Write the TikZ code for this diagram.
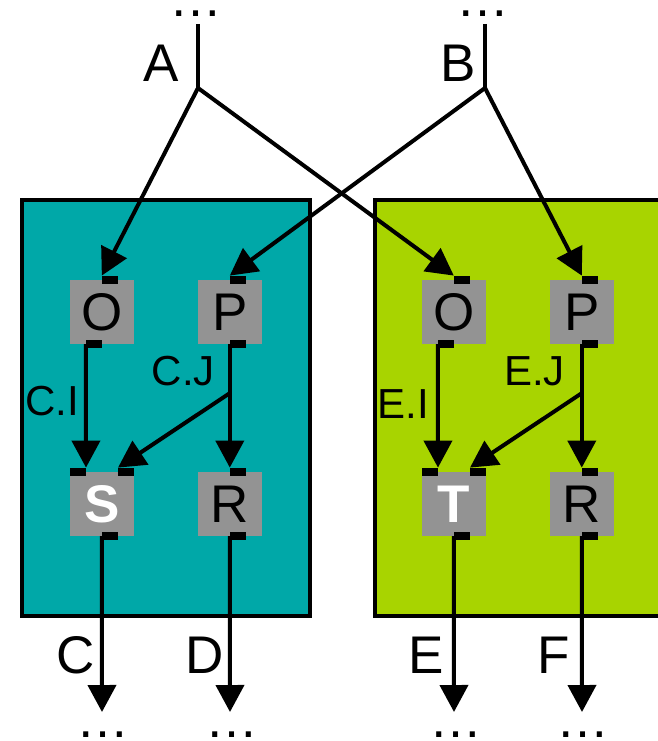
\documentclass[tikz,border=0pt]{standalone}
\usepackage{fontspec}
\setmainfont{Liberation Sans}
\usepackage{tikz}
\usetikzlibrary{arrows.meta, positioning, calc}

\definecolor{tealc}{RGB}{0,168,168}
\definecolor{limec}{RGB}{168,212,0}
\definecolor{boxgray}{RGB}{147,147,147}

\tikzset{
  blk/.style={fill=boxgray, minimum size=64pt, inner sep=0pt,
              font=\fontsize{53}{60}\selectfont},
  hiblk/.style={blk, text=white, font=\fontsize{53}{60}\selectfont\bfseries},
  port/.style={fill=black, minimum width=16pt, minimum height=8pt, inner sep=0pt},
  flow/.style={line width=4pt, -{Triangle[length=27pt,width=28pt]}},
  wire/.style={line width=4pt},
  lbl/.style={font=\fontsize{53}{60}\selectfont, inner sep=0pt, anchor=base east},
  sublbl/.style={font=\fontsize{42}{48}\selectfont, inner sep=0pt, anchor=base east},
  dotsn/.style={font=\fontsize{53}{60}\selectfont, inner sep=0pt, anchor=base,
                text height=5pt, text depth=0pt},
  panel/.style={draw=black, line width=4pt, inner sep=0pt,
                minimum width=287.5pt, minimum height=416pt}
}

\begin{document}
\begin{tikzpicture}[x=1pt,y=-1pt]
          \useasboundingbox (0,0) rectangle (658,741);
          \node[panel,fill=tealc](pc)at(165.75,407.5){};
          \node[panel,fill=limec](pe)at(518.25,407.5){};
          \node[blk](o1)at(102,312){O};
          \node[blk](p1)at(230,312){P};
          \node[hiblk](s)at(102,504){S};
          \node[blk](r1)at(230,504){R};
          \node[blk](o2)at(454,312){O};
          \node[blk](p2)at(582,312){P};
          \node[hiblk](t)at(454,504){T};
          \node[blk](r2)at(582,504){R};
          \node[port](o1t)at($(o1.north)+(8,0)$){};
          \node[port](o1b)at($(o1.south)+(-8,0)$){};
          \node[port](p1t)at($(p1.north)+(8,0)$){};
          \node[port](p1b)at($(p1.south)+(8,0)$){};
          \node[port](sl)at($(s.north west)+(8,0)$){};
          \node[port](sr)at($(s.north east)+(-8,0)$){};
          \node[port](sb)at($(s.south)+(8,0)$){};
          \node[port](r1t)at($(r1.north)+(8,0)$){};
          \node[port](r1b)at($(r1.south)+(8,0)$){};
          \node[port](o2t)at($(o2.north)+(8,0)$){};
          \node[port](o2b)at($(o2.south)+(-8,0)$){};
          \node[port](p2t)at($(p2.north)+(8,0)$){};
          \node[port](p2b)at($(p2.south)+(8,0)$){};
          \node[port](tl)at($(t.north west)+(8,0)$){};
          \node[port](tr)at($(t.north east)+(-8,0)$){};
          \node[port](tb)at($(t.south)+(8,0)$){};
          \node[port](r2t)at($(r2.north)+(8,0)$){};
          \node[port](r2b)at($(r2.south)+(8,0)$){};
          \coordinate(ta)at(198,24);
          \coordinate(ja)at(198,88);
          \coordinate(tbb)at(485,24);
          \coordinate(jb)at(485,88);
          \coordinate(jc)at(230,393);
          \coordinate(je)at(582,393);
          \coordinate(oc)at(102,712);
          \coordinate(od)at(230,712);
          \coordinate(oe)at(454,712);
          \coordinate(of)at(582,712);
          \draw[wire](ta)--(ja);
          \draw[wire](tbb)--(jb);
          \draw[flow](ja)--(o1t.north west);
          \draw[flow](ja)--(o2t.north west);
          \draw[flow](jb)--(p1t.north west);
          \draw[flow](jb)--(p2t.north west);
          \draw[flow](o1b.west)--(sl.north east);
          \draw[flow](p1b.west)--(r1t.north west);
          \draw[flow](jc)--(sr.north west);
          \draw[flow](o2b.west)--(tl.north east);
          \draw[flow](p2b.west)--(r2t.north west);
          \draw[flow](je)--(tr.north west);
          \draw[flow](sb.west)--(oc);
          \draw[flow](r1b.west)--(od);
          \draw[flow](tb.west)--(oe);
          \draw[flow](r2b.west)--(of);
          \node[dotsn](da)at(196,17){…};
          \node[dotsn](db)at(483,17){…};
          \node[dotsn](dc)at(103,737){…};
          \node[dotsn](dd)at(232,737){…};
          \node[dotsn](de)at(456,737){…};
          \node[dotsn](df)at(583,737){…};
          \node[lbl](la)at(179,82){A};
          \node[lbl](lb)at(476,82){B};
          \node[lbl](lc)at(95,673){C};
          \node[lbl](ld)at(224,673){D};
          \node[lbl](le)at(444,673){E};
          \node[lbl](lf)at(570,673){F};
          \node[sublbl](lci)at(79,415){C.I};
          \node[sublbl](lcj)at(215,385){C.J};
          \node[sublbl](lei)at(429,418){E.I};
          \node[sublbl](lej)at(565,385){E.J};
        \end{tikzpicture}
\end{document}
